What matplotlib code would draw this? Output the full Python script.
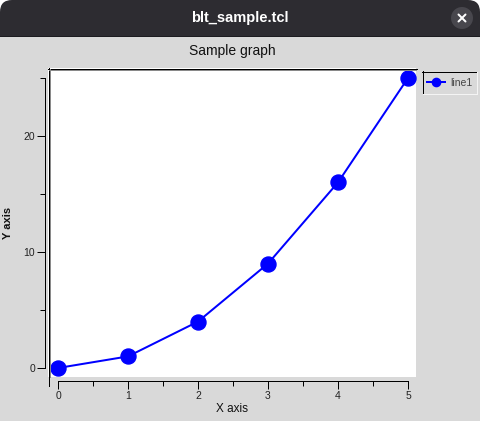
import matplotlib
matplotlib.use("Agg")
import matplotlib.pyplot as plt
from matplotlib.patches import FancyBboxPatch, Rectangle, Circle

plt.rcParams['font.family'] = ['Liberation Sans', 'DejaVu Sans']

# data: y = x^2 sample from the BLT demo
x_vals = [0, 1, 2, 3, 4, 5]
y_vals = [0, 1, 4, 9, 16, 25]
x_major = [0, 1, 2, 3, 4, 5]
x_minor = [0.5, 1.5, 2.5, 3.5, 4.5]
y_major = [0, 10, 20]
y_minor = [5, 15, 25]

W, H = 480, 421
PT = 0.72  # one pixel in points at 100 dpi
bg = '#d9d9d9'

fig = plt.figure(figsize=(4.8, 4.21), dpi=100)
fig.patch.set_facecolor('white')

# window frame drawn in pixel coords
win = fig.add_axes([0, 0, 1, 1], zorder=0)
win.set_xlim(0, W)
win.set_ylim(H, 0)
win.axis('off')
win.add_patch(Rectangle((0, 20), W, H - 20, color=bg, lw=0))
win.add_patch(FancyBboxPatch((0, 0), W, 36, boxstyle='round,pad=0,rounding_size=12',
                             color='#2d2c31', lw=0))
win.add_patch(Rectangle((0, 18), W, 18, color='#2d2c31', lw=0))
win.plot([0, W], [36, 36], color='#1c1c20', lw=PT)
win.add_patch(Circle((462, 18), 11, color='#48474d', lw=0))
win.plot([458.5, 465.5], [14.5, 21.5], color='white', lw=2 * PT, solid_capstyle='round')
win.plot([458.5, 465.5], [21.5, 14.5], color='white', lw=2 * PT, solid_capstyle='round')
win.text(240, 18, 'blt_sample.tcl', color='white', fontsize=10.5, fontweight='bold',
         ha='center', va='center')
win.text(232, 51, 'Sample graph', fontsize=10, ha='center', va='center', color='#111111')

# plot area
ax = fig.add_axes([48 / W, 1 - 377 / H, (416 - 48) / W, (377 - 68) / H], zorder=1)
ax.set_facecolor('white')
ax.plot(x_vals, y_vals, color='#0000ff', lw=2 * PT, marker='o', ms=15 * PT,
        label='line1', clip_on=False, zorder=3)
ax.set_xlim(-10 / 70, 5 + 8 / 70)
ax.set_ylim(-9 / 11.6, 25 + 10 / 11.6)

ax.spines['top'].set_visible(False)
ax.spines['right'].set_visible(False)
ax.spines['left'].set_position(('outward', 3 * PT))
ax.spines['left'].set_bounds(0, 25)
ax.spines['bottom'].set_position(('outward', 4 * PT))
ax.spines['bottom'].set_bounds(0, 5)
for s in ['left', 'bottom']:
    ax.spines[s].set_linewidth(PT)

ax.set_xticks(x_major)
ax.set_xticks(x_minor, minor=True)
ax.set_yticks(y_major)
ax.set_yticks(y_minor, minor=True)
ax.tick_params(which='major', length=8 * PT, width=PT, labelsize=7.5, pad=1.5,
               labelcolor='#222222')
ax.tick_params(which='minor', length=5 * PT, width=PT)

ax.set_xlabel('X axis', fontsize=8.5, va='center', color='#111111')
ax.xaxis.set_label_coords(0.5, -(409 - 377) / 309)
ax.set_ylabel('Y axis', fontsize=8, fontweight='bold', va='center', color='#111111')
ax.yaxis.set_label_coords((8 - 48) / 368, (377 - 223) / 309)

ax.legend(loc='center left', bbox_to_anchor=(427 / W, 1 - 82.5 / H),
          bbox_transform=fig.transFigure, frameon=False, fontsize=7.5,
          markerscale=0.55, handlelength=1.7, handletextpad=0.5,
          borderpad=0, borderaxespad=0, labelcolor='#444444')

# sunken borders of plot area and legend
deco = fig.add_axes([0, 0, 1, 1], zorder=3)
deco.set_xlim(0, W)
deco.set_ylim(H, 0)
deco.axis('off')
deco.plot([48.5, 48.5], [68, 386], color='black', lw=PT)
deco.plot([48, 417], [68.5, 68.5], color='black', lw=PT)
deco.plot([49.5, 49.5], [69, 377], color='#8a8a8a', lw=PT)
deco.plot([49, 416], [69.5, 69.5], color='#8a8a8a', lw=PT)
deco.plot([422.5, 422.5], [71, 94], color='black', lw=PT)
deco.plot([422, 477], [71.5, 71.5], color='black', lw=PT)
deco.plot([476.5, 476.5], [72, 94], color='#f4f4f4', lw=PT)
deco.plot([423, 477], [93.5, 93.5], color='#f4f4f4', lw=PT)

fig.savefig('out.png', dpi=100)
